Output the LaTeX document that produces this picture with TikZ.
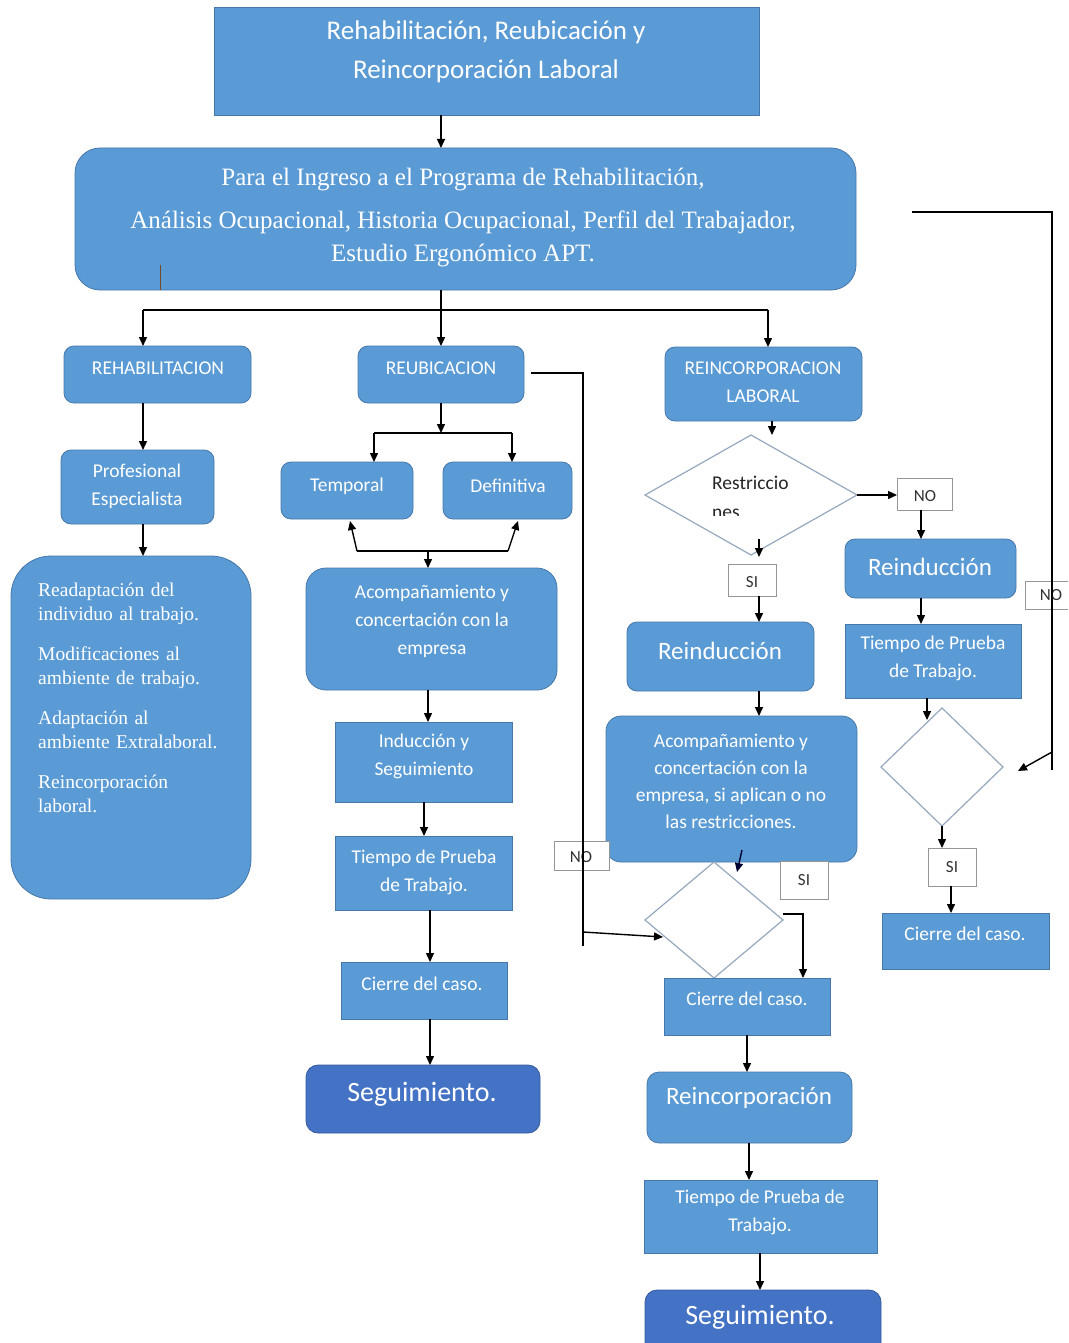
\documentclass[tikz,border=0pt]{standalone}
\usepackage{fontspec}
\setmainfont{Carlito}
\newfontfamily\serifA{Liberation Serif}
\usetikzlibrary{arrows.meta,shapes.geometric}
\definecolor{boxblue}{RGB}{91,155,213}
\definecolor{boxedge}{RGB}{70,120,170}
\definecolor{segblue}{RGB}{68,114,196}
\definecolor{dmdline}{RGB}{150,168,190}
\definecolor{labline}{RGB}{150,150,150}
\definecolor{labtext}{RGB}{50,50,50}
\newcommand{\mybox}[6]{\node[#2, minimum width={(#5-#3)*1pt}, minimum height={(#6-#4)*1pt}] (#1) at ({(#3+#5)/2},{(#4+#6)/2}) {};}
\tikzset{
  shp/.style={fill=boxblue, draw=boxedge, line width=0.8pt, inner sep=0pt, outer sep=0pt},
  sq/.style={shp},
  rnd/.style={shp, rounded corners=10pt},
  seg/.style={shp, fill=segblue, draw=segblue!80!black, rounded corners=12pt},
  lab/.style={draw=labline, fill=white, line width=0.8pt, inner sep=0pt, outer sep=0pt},
  dmd/.style={diamond, draw=dmdline, fill=white, line width=1.2pt, inner sep=0pt, outer sep=0pt},
  wt/.style={text=white, align=center, inner sep=0pt, font=\fontsize{19.5}{28}\selectfont},
  bigt/.style={wt, font=\fontsize{25}{30}\selectfont},
  segt/.style={wt, font=\fontsize{28}{32}\selectfont},
  labt/.style={text=labtext, inner sep=0pt, font=\fontsize{17}{20}\selectfont},
  dtext/.style={text=black!85, inner sep=0pt, font=\fontsize{19.5}{28}\selectfont},
  arr/.style={-{Triangle[length=9pt,width=8pt]}, line width=1.4pt},
  ln/.style={line width=1.4pt},
}
\begin{document}
\begin{tikzpicture}[x=1pt,y=-1pt]
\useasboundingbox (0,0) rectangle (1068,1343);
\clip (0,0) rectangle (1068,1343);
\fill[white] (0,0) rectangle (1068,1343);

% ---------- boxes ----------
\mybox{top}{sq}{214}{7}{759}{115}
\node[wt, font=\fontsize{27}{39}\selectfont] (topt) at (486,52) {Rehabilitación, Reubicación y\\Reincorporación Laboral};

\mybox{prog}{rnd, rounded corners=25pt}{75}{148}{856}{290}
\node[wt, font=\serifA\fontsize{25}{33}\selectfont] (progt) at (463,218) {Para el Ingreso a el Programa de Rehabilitación,\\[10pt]Análisis Ocupacional, Historia Ocupacional, Perfil del Trabajador,\\Estudio Ergonómico APT.};
\draw[brown!60!black, line width=1pt] (160,265) -- (160,290);

\mybox{rehab}{rnd}{64}{346}{251}{403}
\node[wt] (rehabt) at (158,368) {REHABILITACION};
\mybox{reub}{rnd}{358}{346}{524}{403}
\node[wt] (reubt) at (441,368) {REUBICACION};
\mybox{reinc}{rnd}{665}{347}{862}{421}
\node[wt] (reinct) at (763,382) {REINCORPORACION\\LABORAL};

\mybox{prof}{rnd}{61}{450}{214}{524}
\node[wt] (proft) at (137,486) {Profesional\\Especialista};
\mybox{readapt}{rnd, rounded corners=40pt}{11}{556}{251}{899}
\node[wt, align=left, anchor=north west, text width=210pt, font=\serifA\fontsize{19.5}{24}\selectfont] (readaptt) at (38,583) {Readaptación del\\individuo al trabajo.\\[16pt]Modificaciones al\\ambiente de trabajo.\\[16pt]Adaptación al\\ambiente Extralaboral.\\[16pt]Reincorporación\\laboral.};

\mybox{temp}{rnd}{281}{462}{413}{519}
\node[wt] (tempt) at (347,486) {Temporal};
\mybox{defi}{rnd}{443}{462}{572}{519}
\node[wt] (defit) at (508,486) {Definitiva};
\mybox{acomp1}{rnd, rounded corners=20pt}{306}{568}{557}{690}
\node[wt] (acomp1t) at (432,621) {Acompañamiento y\\concertación con la\\empresa};
\mybox{induc}{sq}{335}{722}{512}{802}
\node[wt] (induct) at (424,756) {Inducción y\\Seguimiento};
\mybox{tiempo1}{sq}{335}{836}{512}{910}
\node[wt] (tiempo1t) at (424,872) {Tiempo de Prueba\\de Trabajo.};
\mybox{cierre1}{sq}{341}{962}{507}{1019}
\node[wt] (cierre1t) at (422,984) {Cierre del caso.};
\mybox{seg1}{seg}{306}{1065}{540}{1133}
\node[segt] (seg1t) at (422,1094) {Seguimiento.};

% right branch
\node[dmd, minimum width=212pt, minimum height=120pt] (dia1) at (751,495) {};
\node[dtext, anchor=base west] (dia1t) at (712,489) {Restriccio};
\begin{scope}
\clip (700,500) rectangle (790,515);
\node[dtext, anchor=base west] (dia1u) at (712,518) {nes};
\end{scope}
\mybox{no1}{lab}{897}{478}{952}{510}
\node[labt] (no1t) at (925,496) {NO};
\mybox{reind2}{rnd}{845}{539}{1016}{598}
\node[bigt] (reind2t) at (930,567) {Reinducción};
\mybox{tiempo2}{sq}{845}{624}{1021}{698}
\node[wt] (tiempo2t) at (933,658) {Tiempo de Prueba\\de Trabajo.};
\node[dmd, minimum width=122pt, minimum height=118pt] (dia2) at (942,767) {};
\mybox{si2}{lab}{928}{848}{976}{886}
\node[labt] (si2t) at (952,867) {SI};
\mybox{cierre3}{sq}{882}{913}{1049}{969}
\node[wt] (cierre3t) at (965,934) {Cierre del caso.};
\mybox{no2}{lab}{1025}{581}{1075}{609}
\node[labt] (no2t) at (1051,595) {NO};

% middle branch
\mybox{si1}{lab}{728}{564}{776}{596}
\node[labt] (si1t) at (752,582) {SI};
\mybox{reind1}{rnd}{627}{622}{814}{691}
\node[bigt] (reind1t) at (720,651) {Reinducción};
\mybox{acomp2}{rnd, rounded corners=15pt}{606}{716}{857}{862}
\node[wt, font=\fontsize{19.5}{27}\selectfont] (acomp2t) at (731,781) {Acompañamiento y\\concertación con la\\empresa, si aplican o no\\las restricciones.};
\node[dmd, minimum width=138pt, minimum height=116pt] (dia3) at (714,920) {};
\mybox{si3}{lab}{780}{861}{828}{899}
\node[labt] (si3t) at (804,880) {SI};
\mybox{no3}{lab}{554}{841}{609}{870}
\node[labt] (no3t) at (581,857) {NO};
\mybox{cierre2}{sq}{664}{978}{830}{1035}
\node[wt] (cierre2t) at (747,999) {Cierre del caso.};
\mybox{reinc2}{rnd, rounded corners=12pt}{647}{1072}{852}{1143}
\node[bigt] (reinc2t) at (749,1098) {Reincorporación};
\mybox{tiempo3}{sq}{644}{1180}{877}{1253}
\node[wt] (tiempo3t) at (760,1212) {Tiempo de Prueba de\\Trabajo.};
\mybox{seg2}{seg}{645}{1290}{881}{1360}
\node[segt] (seg2t) at (760,1317) {Seguimiento.};

% ---------- connectors ----------
\coordinate (J1) at (143,310);
\coordinate (J2) at (768,310);
\draw[arr] (top.south -| reub) -- (prog.north -| reub);
\draw[arr] (prog.south -| reub) -- (reub.north);
\draw[ln] (J1) -- (J2);
\draw[arr] (J1) -- (J1 |- rehab.north);
\draw[arr] (J2) -- (J2 |- reinc.north);
\draw[arr] (J1 |- rehab.south) -- (J1 |- prof.north);
\draw[arr] (J1 |- prof.south) -- (J1 |- readapt.north);

\coordinate (J3) at (441,433);
\coordinate (J3L) at (374,433);
\coordinate (J3R) at (512,433);
\draw[arr] (reub.south) -- (J3);
\draw[ln] (J3L) -- (J3R);
\draw[arr] (J3L) -- (J3L |- temp.north);
\draw[arr] (J3R) -- (J3R |- defi.north);

\coordinate (B1) at (357,551);
\coordinate (B2) at (508,551);
\coordinate (B3) at (428,551);
\coordinate (TB) at (350,521);
\coordinate (DB) at (518,521);
\draw[ln] (B1) -- (B2);
\draw[arr] (B1) -- (TB);
\draw[arr] (B2) -- (DB);
\draw[arr] (B3) -- (B3 |- acomp1.north);
\draw[arr] (B3 |- acomp1.south) -- (B3 |- induc.north);
\coordinate (X424) at (424,0);
\coordinate (X430) at (430,0);
\draw[arr] (X424 |- induc.south) -- (X424 |- tiempo1.north);
\draw[arr] (X430 |- tiempo1.south) -- (X430 |- cierre1.north);
\draw[arr] (X430 |- cierre1.south) -- (X430 |- seg1.north);

\coordinate (R0) at (531,373);
\coordinate (R1) at (583,373);
\coordinate (R2) at (583,946);
\coordinate (R3) at (583,932);
\coordinate (D3IN) at (663,937);
\draw[ln] (R0) -- (R1) -- (R2);
\draw[arr] (R3) -- (D3IN);

\coordinate (X772) at (772,0);
\draw[arr] (reinc.south -| X772) -- (X772 |- dia1.north);
\draw[arr] (dia1.east) -- (dia1.east -| no1.west);
\coordinate (X921) at (921,0);
\draw[arr] (no1.south -| X921) -- (X921 |- reind2.north);
\draw[arr] (X921 |- reind2.south) -- (X921 |- tiempo2.north);
\coordinate (X927) at (927,0);
\coordinate (D2IN) at (927,720);
\draw[arr] (X927 |- tiempo2.south) -- (D2IN);
\draw[arr] (dia2.south) -- (dia2.south |- si2.north);
\coordinate (X951) at (951,0);
\draw[arr] (X951 |- si2.south) -- (X951 |- cierre3.north);

\coordinate (E0) at (912,212);
\coordinate (E1) at (1052,212);
\coordinate (E2) at (1052,770);
\coordinate (E3) at (1052,752);
\coordinate (D2R) at (1018,771);
\draw[ln] (E0) -- (E1) -- (E2);
\draw[arr] (E3) -- (D2R);

\coordinate (S1a) at (759,539);
\coordinate (S1b) at (759,557);
\coordinate (X759) at (759,0);
\draw[arr] (S1a) -- (S1b);
\draw[arr] (X759 |- si1.south) -- (X759 |- reind1.north);
\draw[arr] (X759 |- reind1.south) -- (X759 |- acomp2.north);
\coordinate (A2a) at (742,850);
\coordinate (A2b) at (737,872);
\draw[arr, draw=black!80!blue] (A2a) -- (A2b);
\coordinate (F0) at (783,914);
\coordinate (F1) at (803,914);
\draw[arr] (F0) -- (F1) -- (F1 |- cierre2.north);
\coordinate (X747) at (747,0);
\coordinate (X749) at (749,0);
\coordinate (X760) at (760,0);
\draw[arr] (X747 |- cierre2.south) -- (X747 |- reinc2.north);
\draw[arr] (X749 |- reinc2.south) -- (X749 |- tiempo3.north);
\draw[arr] (X760 |- tiempo3.south) -- (X760 |- seg2.north);
\end{tikzpicture}
\end{document}
